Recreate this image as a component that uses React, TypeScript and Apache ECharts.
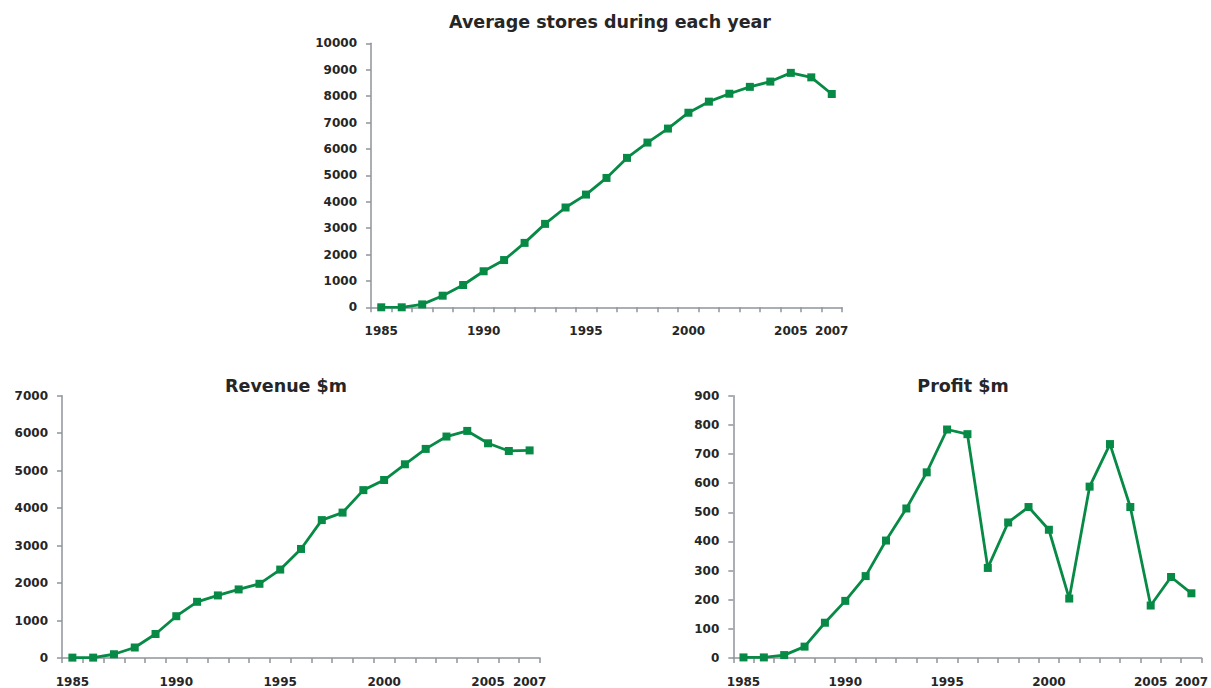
import React, { useEffect, useRef } from "react";
import * as echarts from "echarts";

const years = [
  "1985", "1986", "1987", "1988", "1989", "1990", "1991", "1992", "1993", "1994", "1995", "1996",
  "1997", "1998", "1999", "2000", "2001", "2002", "2003", "2004", "2005", "2006", "2007",
];
const shownYears = ["1985", "1990", "1995", "2000", "2005", "2007"];

const stores = [
  0, 0, 110, 440, 845, 1365, 1790, 2440, 3160, 3780, 4270, 4900,
  5660, 6240, 6770, 7370, 7790, 8090, 8350, 8550, 8880, 8710, 8080,
];
const revenue = [
  10, 10, 100, 280, 640, 1115, 1500, 1670, 1830, 1980, 2360, 2910,
  3680, 3880, 4480, 4750, 5170, 5580, 5910, 6060, 5730, 5525, 5540,
];
const profit = [
  2, 2, 10, 39, 121, 196, 281, 403, 513, 637, 784, 768,
  309, 465, 518, 440, 204, 588, 734, 518, 180, 278, 222,
];

const titles = ["Average stores during each year", "Revenue $m", "Profit $m"];

const GREEN = "#078a45";
const AXIS = "#8f959b";
const TEXT = "#262626";
const FONT = "DejaVu Sans";

export default function App() {
  const ref = useRef<HTMLDivElement>(null);
  useEffect(() => {
    document.body.style.margin = "0";
    const chart = echarts.init(ref.current!, null, { renderer: "svg" });
    const xAxis = (gi: number) => ({
      type: "category",
      gridIndex: gi,
      data: years,
      boundaryGap: true,
      axisLine: { lineStyle: { color: AXIS, width: 1.5 } },
      axisTick: { show: true, interval: 0, length: 5, lineStyle: { color: AXIS, width: 1.5 } },
      axisLabel: {
        interval: (i: number, v: string) => shownYears.includes(v),
        margin: 18,
        color: TEXT,
        fontFamily: FONT,
        fontWeight: "bold",
        fontSize: 12,
      },
      splitLine: { show: false },
    });
    const yAxis = (gi: number, max: number, interval: number) => ({
      type: "value",
      gridIndex: gi,
      min: 0,
      max,
      interval,
      axisLine: { show: true, lineStyle: { color: AXIS, width: 1.5 } },
      axisTick: { show: true, length: 5, lineStyle: { color: AXIS, width: 1.5 } },
      axisLabel: {
        margin: 14,
        formatter: (v: number) => String(v),
        color: TEXT,
        fontFamily: FONT,
        fontWeight: "bold",
        fontSize: 12,
      },
      splitLine: { show: false },
    });
    const series = (gi: number, data: number[]) => ({
      type: "line",
      xAxisIndex: gi,
      yAxisIndex: gi,
      data,
      symbol: "rect",
      symbolSize: 8,
      showSymbol: true,
      lineStyle: { color: GREEN, width: 2.8 },
      itemStyle: { color: GREEN },
    });
    const titleText = (text: string, x: number, y: number) => ({
      type: "text",
      x,
      y,
      style: {
        text,
        textAlign: "center",
        textVerticalAlign: "middle",
        fontFamily: FONT,
        fontWeight: "bold",
        fontSize: 17.5,
        fill: TEXT,
      },
    });
    chart.setOption({
      animation: false,
      grid: [
        { left: 371, right: 369, top: 43.3, bottom: 380.7 },
        { left: 62, right: 671, top: 395.7, bottom: 28.7 },
        { left: 733.3, right: 4.5, top: 395.7, bottom: 28.7 },
      ],
      xAxis: [xAxis(0), xAxis(1), xAxis(2)],
      yAxis: [yAxis(0, 10000, 1000), yAxis(1, 7000, 1000), yAxis(2, 900, 100)],
      series: [series(0, stores), series(1, revenue), series(2, profit)],
      graphic: [
        titleText(titles[0], 610, 22),
        titleText(titles[1], 286, 386),
        titleText(titles[2], 963, 386),
      ],
    });
    return () => chart.dispose();
  }, []);
  return <div ref={ref} style={{ width: 1211, height: 688 }} />;
}
